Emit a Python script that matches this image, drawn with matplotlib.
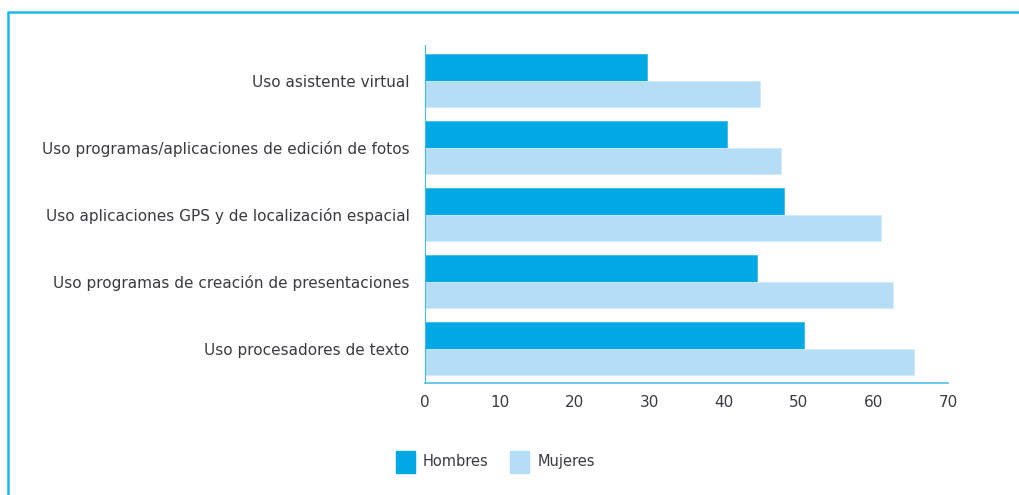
import matplotlib

matplotlib.use("Agg")

import matplotlib.pyplot as plt
import numpy as np
from matplotlib.lines import Line2D
from matplotlib.patches import Patch

categories = [
    "Uso asistente virtual",
    "Uso programas/aplicaciones de edición de fotos",
    "Uso aplicaciones GPS y de localización espacial",
    "Uso programas de creación de presentaciones",
    "Uso procesadores de texto",
]
hombres = [29.7, 40.4, 48.1, 44.5, 50.7]
mujeres = [44.9, 47.7, 61.0, 62.7, 65.5]
xticks = [0, 10, 20, 30, 40, 50, 60, 70]

C_HOM = "#00a8e4"
C_MUJ = "#b5ddf5"
C_LINE = "#1ab8ec"
C_TEXT = "#3a3a42"

plt.rcParams["font.family"] = ["DejaVu Sans"]

fig = plt.figure(figsize=(10.19, 4.95), dpi=100)
ax = fig.add_axes([0.4171, 0.2269, 0.5132, 0.6822])

y = np.arange(len(categories))
h = 0.395
ax.barh(y - h / 2, hombres, height=h, color=C_HOM, edgecolor="#3fb8ea", linewidth=0.6)
ax.barh(y + h / 2, mujeres, height=h, color=C_MUJ, edgecolor="#d2ebf8", linewidth=0.6)

ax.set_ylim(4.51, -0.53)
ax.set_xlim(0, 70)
ax.set_xticks(xticks)
ax.set_yticks(y, categories)
ax.tick_params(axis="both", length=0, labelsize=11, colors=C_TEXT)
ax.tick_params(axis="x", pad=9)
ax.tick_params(axis="y", pad=11)

for s in ("top", "right"):
    ax.spines[s].set_visible(False)
ax.spines["left"].set_color("#3dbde8")
ax.spines["left"].set_linewidth(0.8)
ax.spines["bottom"].set_color("#4ec0e8")
ax.spines["bottom"].set_linewidth(1.2)

# frame lines (left and top)
fig.add_artist(Line2D([8 / 1019, 8 / 1019], [0, 1 - 11.5 / 495], color=C_LINE, lw=1.8,
                      transform=fig.transFigure, solid_capstyle="butt"))
fig.add_artist(Line2D([7 / 1019, 1], [1 - 11.5 / 495, 1 - 11.5 / 495], color=C_LINE, lw=1.8,
                      transform=fig.transFigure, solid_capstyle="butt"))

handles = [Patch(color=C_HOM, label="Hombres"), Patch(color=C_MUJ, label="Mujeres")]
fig.legend(handles=handles, loc="center", bbox_to_anchor=(0.486, 0.067), ncol=2,
           frameon=False, fontsize=10.5, handlelength=1.3, handleheight=2.0,
           handletextpad=0.55, columnspacing=1.5, labelcolor=C_TEXT)

fig.savefig("out.png", dpi=100)
